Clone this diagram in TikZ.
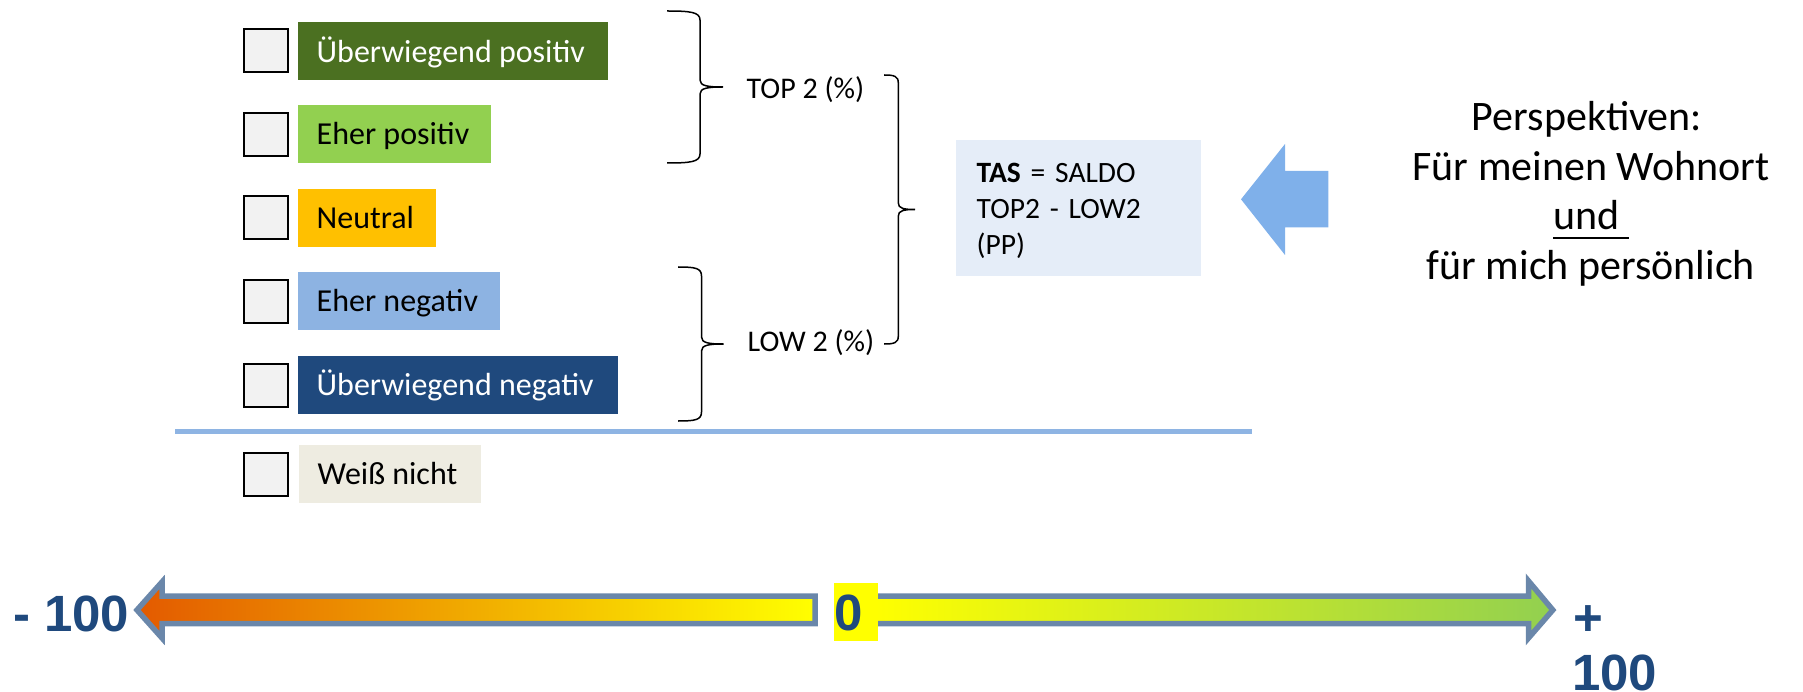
\documentclass[tikz,border=0pt]{standalone}
\usepackage{fontspec}
\setmainfont{Carlito}
\newfontfamily\arialfam{Liberation Sans}
\definecolor{dkgreen}{HTML}{4B7021}
\definecolor{ltgreen}{HTML}{92D050}
\definecolor{neutralc}{HTML}{FFC000}
\definecolor{ltblue}{HTML}{8DB3E2}
\definecolor{dkblue}{HTML}{1F497D}
\definecolor{wncol}{HTML}{EEECE1}
\definecolor{cbfill}{HTML}{F2F2F2}
\definecolor{sepblue}{HTML}{8EB4E3}
\definecolor{tasbg}{HTML}{E5EDF8}
\definecolor{bigarrow}{HTML}{7FB0EA}
\definecolor{arrline}{HTML}{6A87AA}
\definecolor{orangeL}{HTML}{E35A00}
\definecolor{yel}{HTML}{FFFF00}
\newcommand\myul[1]{\setbox0=\hbox{#1}\rlap{\raisebox{-9.5pt}{\rule{\wd0}{2.5pt}}}\box0}
\newcommand\labtext[2]{\makebox[#1][l]{#2}}
\begin{document}
\begin{tikzpicture}[x=1pt,y=-1pt,
  cbox/.style={draw=black, line width=2, fill=cbfill, minimum width=44, minimum height=43, anchor=north west, inner sep=0},
  lab/.style={anchor=north west, inner xsep=18.5, inner ysep=0, minimum height=58, text height=24, text depth=2, font=\fontsize{32}{38}\selectfont},
  bracel/.style={draw=black, line width=1.5},
  btxt/.style={anchor=base west, inner sep=0, font=\fontsize{30}{36}\selectfont},
  rtxt/.style={anchor=base, inner sep=0, font=\fontsize{42}{50}\selectfont},
  numtxt/.style={inner sep=0, text=dkblue, font=\arialfam\bfseries\fontsize{51}{56}\selectfont},
  arrowline/.style={draw=arrline, line width=5.5, miter limit=10}]
\useasboundingbox (0,0) rectangle (1803,692);

% checkboxes
\node[cbox] (c1) at (242.5,27.7) {};
\node[cbox] (c2) at (242.5,111.7) {};
\node[cbox] (c3) at (242.5,195.3) {};
\node[cbox] (c4) at (242.5,279.3) {};
\node[cbox] (c5) at (242.5,362.7) {};
\node[cbox] (c6) at (243.3,452) {};

% labels
\node[lab, fill=dkgreen, text=white] (l1) at (298,22) {\labtext{272.5pt}{Überwiegend positiv}};
\node[lab, fill=ltgreen] (l2) at (298,104.5) {\labtext{155.5pt}{Eher positiv}};
\node[lab, fill=neutralc] (l3) at (298,188.5) {\labtext{101pt}{Neutral}};
\node[lab, fill=ltblue] (l4) at (298,271.5) {\labtext{165pt}{Eher negativ}};
\node[lab, fill=dkblue, text=white] (l5) at (298,355.5) {\labtext{282.8pt}{Überwiegend negativ}};
\node[lab, fill=wncol] (l6) at (299,444.5) {\labtext{145pt}{Weiß nicht}};

% separator
\draw[sepblue, line width=5] (175,431) -- (1252,431);

% braces
\draw[bracel] (667,11) .. controls (690,11) and (700,12) .. (700,20) -- (700,80)
  .. controls (700,86) and (708,87) .. (723,87) .. controls (708,87) and (700,88) .. (700,94)
  -- (700,154) .. controls (700,162) and (690,163) .. (667,163);
\draw[bracel] (678,267) .. controls (695,267) and (701.5,268) .. (701.5,276) -- (701.5,337)
  .. controls (701.5,343) and (709,344) .. (723.5,344) .. controls (709,344) and (701.5,345) .. (701.5,351)
  -- (701.5,412) .. controls (701.5,420) and (695,421) .. (678,421);
\draw[bracel] (884,75) .. controls (894,75) and (898.3,76) .. (898.3,83) -- (898.3,203)
  .. controls (898.3,208.5) and (904,209.5) .. (915,209.5) .. controls (904,209.5) and (898.3,210.5) .. (898.3,216)
  -- (898.3,336) .. controls (898.3,343) and (894,344) .. (884,344);

\node[btxt] (top2) at (746.5,99) {TOP 2 (\%)};
\node[btxt] (low2) at (747.5,351.7) {LOW 2 (\%)};

% TAS box
\node[anchor=north west, fill=tasbg, minimum width=244.7, minimum height=135.7, inner xsep=20.5, inner ysep=0,
  text width=203.7, align=left, text height=20, text depth=70.6, font=\fontsize{29.5}{36}\selectfont]
  (tas) at (956,140) {\textbf{TAS} = SALDO\\TOP2 - LOW2\\(PP)};

% big blue arrow
\fill[bigarrow] (1241,199.3) -- (1285,144) -- (1285,171) -- (1328.3,171) -- (1328.3,227.3)
  -- (1285,227.3) -- (1285,255) -- cycle;

% right text
\node[rtxt] (p1) at (1587,130.7) {Perspektiven:};
\node[rtxt] (p2) at (1591,181) {Für meinen Wohnort};
\node[rtxt] (p3) at (1591,230) {\myul{und\ }};
\node[rtxt] (p4) at (1591,280) {für mich persönlich};

% scale arrows
\draw[arrowline, left color=orangeL, right color=yel]
  (137,610) -- (162,582) -- (162,596) -- (815,596) -- (815,623.5) -- (162,623.5) -- (162,638) -- cycle;
\draw[arrowline, left color=yel, right color=ltgreen]
  (872,596) -- (1528.5,596) -- (1528.5,581) -- (1552.8,610) -- (1528.5,638) -- (1528.5,623.5) -- (872,623.5) -- cycle;

\node[numtxt, anchor=base east] (m100) at (129.5,631) {- 100};
\node[numtxt, anchor=north west, fill=yel, minimum width=44, minimum height=58, text width=44, align=left, text height=36.5, text depth=0] (zero) at (834,583) {0};
\node[numtxt, anchor=base west] (plus) at (1573.5,635.6) {+};
\node[numtxt, anchor=base west] (p100) at (1572,690) {100};
\end{tikzpicture}
\end{document}
